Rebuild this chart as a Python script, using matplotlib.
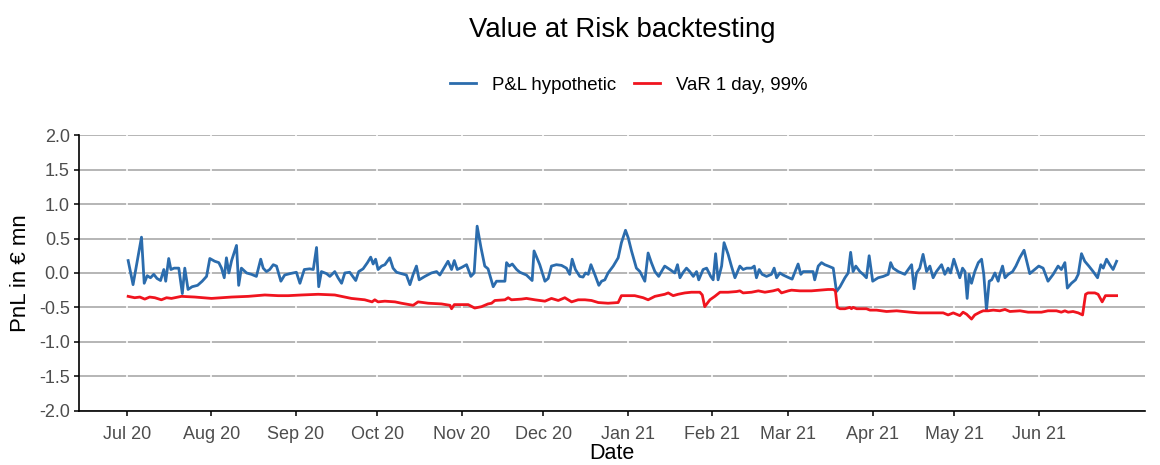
import matplotlib
matplotlib.use("Agg")
import matplotlib.pyplot as plt
import numpy as np
import pandas as pd

# ---- data ----
start_date = "2020-07-01"

# P&L hypothetic: days after start_date, value in EUR mn
pnl_days = [0.5, 2.3, 5.4, 6.4, 7.5, 8.7, 9.9, 11.1, 12.4, 13.6, 14.3, 15.4, 16.2, 17.4, 19.1, 20.4, 21.3, 22.5,
            24.0, 26.0, 27.7, 29.3, 30.5, 32.3, 33.8, 34.8, 35.8, 36.6, 37.5, 38.5, 40.3, 41.1, 42.1, 44.0, 45.8,
            47.6, 49.2, 50.1, 51.3, 52.5, 53.8, 55.0, 56.6, 58.0,
            59.9, 62.3, 63.6, 65.2, 67.2, 68.5, 69.7, 70.5, 71.5, 73.4, 74.6, 76.4, 77.6, 78.9, 80.1, 81.9, 84.1,
            85.2, 86.8, 88.4, 89.6, 90.5, 91.4, 92.3, 93.6, 94.8, 96.6, 97.8, 99.1, 100.9, 102.7, 104.0, 105.2,
            106.4, 107.4, 109.5, 111.9, 113.8, 115.0, 116.2, 118.0, 119.3, 120.3, 121.4,
            123.0, 124.8, 126.4, 127.6, 128.7, 130.1, 131.5, 132.7, 134.6, 135.8, 137.6, 138.9, 139.5, 140.5, 141.6,
            143.2, 144.4, 145.6, 146.8, 148.1, 148.9, 149.6, 151.7, 153.6, 154.8, 156.0, 157.8, 159.7, 161.5, 162.7,
            163.6, 164.8, 166.4, 167.6, 168.5, 169.5, 170.5, 171.9, 173.4, 174.4, 175.6, 176.8, 178.7, 180.5, 181.7,
            183.2,
            184.2, 185.4, 187.2, 188.5, 190.3, 191.5, 192.7, 194.0, 195.4, 196.4, 197.6, 199.5, 201.3, 202.3, 203.2,
            204.4, 205.6, 206.8, 208.1, 209.3, 210.1, 211.7, 213.0, 214.5, 215.4, 216.3, 217.2, 218.5, 219.4, 220.9,
            222.1, 223.4, 225.2, 226.4, 227.7, 229.5, 230.5, 231.3, 232.3, 233.4, 235.0, 236.8, 237.8, 238.7, 239.9,
            241.1, 242.7, 244.4, 246.0, 246.6,
            247.6, 248.5, 250.3, 252.1, 252.7, 254.0, 255.2, 256.4, 257.7, 259.5, 260.7, 262.0, 263.8, 265.0, 265.9,
            266.8, 267.8, 269.3, 270.5, 271.7, 272.7, 274.0, 276.0, 277.9, 279.7, 280.6, 281.5, 283.4, 285.8, 287.4,
            288.3, 289.2, 290.1, 291.3, 292.5, 293.8,
            295.0, 296.2, 297.4, 299.3, 300.5, 301.7, 302.6, 303.8, 305.0, 306.0, 307.0, 307.9, 308.7, 309.4, 310.3,
            311.5, 312.8, 314.0, 314.8, 315.8, 316.8, 317.7, 318.9, 320.1, 320.7, 321.7, 322.6, 323.8, 325.4, 326.6,
            328.0, 329.6, 331.7, 333.5, 335.0, 336.6, 338.4, 340.3, 342.1, 343.3, 344.6, 345.5, 347.0, 348.5, 349.5,
            350.7, 351.9, 353.4, 355.0, 356.6, 357.8, 358.7, 359.9, 361.1, 362.3, 363.6]
pnl_values = [0.18, -0.17, 0.52, -0.15, -0.04, -0.07, -0.02, -0.08, -0.11, 0.05, -0.12, 0.21, 0.05, 0.07, 0.07, -0.30, 0.07, -0.24,
              -0.20, -0.18, -0.12, -0.05, 0.21, 0.17, 0.15, 0.07, -0.07, 0.22, 0.00, 0.18, 0.40, -0.18, 0.07, 0.00, -0.02,
              -0.05, 0.20, 0.07, 0.02, 0.05, 0.12, 0.10, -0.12, -0.03,
              -0.01, 0.01, -0.15, 0.05, 0.06, 0.05, 0.37, -0.20, 0.02, -0.01, -0.05, 0.02, -0.07, -0.15, 0.00, 0.01, -0.11,
              0.02, 0.06, 0.15, 0.23, 0.13, 0.20, 0.05, 0.10, 0.12, 0.22, 0.07, 0.01, -0.01, -0.03, -0.17, -0.02,
              0.10, -0.10, -0.05, 0.00, 0.02, -0.03, 0.05, 0.17, 0.05, 0.18, 0.05,
              0.08, 0.12, -0.05, 0.00, 0.68, 0.37, 0.10, 0.06, -0.20, -0.12, -0.12, -0.12, 0.15, 0.10, 0.13,
              0.05, 0.01, -0.01, -0.03, -0.08, -0.11, 0.32, 0.12, -0.12, -0.08, 0.10, 0.12, 0.11, 0.07, -0.02,
              0.20, 0.05, -0.05, -0.06, 0.00, -0.02, 0.12, -0.02, -0.18, -0.12, -0.10, 0.00, 0.10, 0.22, 0.44,
              0.62,
              0.51, 0.32, 0.07, 0.02, -0.12, 0.29, 0.15, 0.02, -0.05, 0.02, 0.10, 0.05, 0.00, 0.12, -0.07,
              0.01, 0.07, 0.02, -0.05, 0.02, -0.10, 0.05, 0.07, -0.05, -0.10, 0.28, -0.10, 0.10, 0.44, 0.27,
              0.10, -0.07, 0.10, 0.05, 0.07, 0.07, 0.10, -0.07, 0.05, -0.02, -0.05, -0.02, 0.07, -0.07, 0.00,
              -0.03, -0.06, -0.09, 0.07, 0.13,
              -0.02, 0.02, 0.02, 0.02, -0.10, 0.10, 0.15, 0.12, 0.10, 0.07, -0.27, -0.20, -0.07, 0.00, 0.30,
              0.02, 0.10, 0.02, -0.02, -0.07, 0.25, -0.12, -0.07, -0.05, -0.02, 0.15, 0.07, 0.02, -0.02, 0.07,
              0.12, -0.23, 0.00, 0.07, 0.27, 0.02,
              0.10, -0.07, 0.02, 0.12, -0.02, 0.07, 0.00, 0.20, 0.05, -0.07, 0.07, 0.02, -0.37, -0.02, -0.15,
              0.02, 0.15, 0.20, -0.02, -0.54, -0.12, -0.10, 0.00, -0.12, -0.02, 0.10, -0.07, -0.02, 0.02, 0.10,
              0.22, 0.33, -0.01, 0.05, 0.10, 0.07, -0.12, -0.02, 0.10, 0.05, 0.15, -0.22, -0.15, -0.10, -0.02,
              0.28, 0.17, 0.10, 0.02, -0.07, 0.12, 0.07, 0.20, 0.12, 0.05, 0.17]

# VaR 1 day, 99%: days after start_date, value in EUR mn
var_days = [0.5, 2.9, 4.8, 6.6, 8.4, 10.3, 12.7, 14.6, 16.4, 20.1, 25.0, 31.1, 34.8, 38.5, 44.6, 50.7, 55.6, 59.3,
            64.2, 70.3, 76.4, 82.5, 87.4, 90.1, 91.1, 92.3, 94.8, 98.5, 100.9, 105.2, 107.0, 110.7, 115.6, 118.7,
            119.3, 120.3, 122.3, 125.4, 127.8, 130.3, 132.7, 134.0, 135.2, 138.9, 140.1, 141.3, 145.0, 146.8, 149.9,
            153.6, 156.0, 158.5, 160.9, 163.4, 165.8, 168.3, 170.7, 173.2, 176.8, 180.5, 181.7, 184.8, 186.6, 189.7,
            191.5, 194.0, 197.6, 198.9, 200.7, 202.5, 205.0, 207.4, 210.5, 211.4, 212.3, 214.2, 216.0, 217.9, 220.9,
            224.0, 225.2, 226.4, 229.5, 232.0, 234.4, 237.4, 239.3, 240.5, 243.0, 244.2, 247.2, 251.5, 257.6, 259.5,
            260.3, 261.0, 262.0, 263.8, 265.6, 266.2, 266.8, 268.1, 271.7, 273.0, 275.4, 279.1, 282.8, 287.7, 291.0,
            295.0, 299.9, 301.7, 303.6, 306.0, 307.2, 308.5, 310.3, 311.5, 313.4, 314.6, 316.4, 318.3, 320.7, 322.6,
            324.4, 328.1, 331.1, 336.0, 338.4, 341.5, 343.3, 344.6, 345.8, 347.6, 349.5, 351.1, 352.2, 353.1, 355.6,
            356.8, 358.3, 359.5, 363.6]
var_values = [-0.34, -0.36, -0.35, -0.38, -0.35, -0.36, -0.39, -0.36, -0.37, -0.34, -0.35, -0.37, -0.36, -0.35, -0.34, -0.32, -0.33, -0.33,
              -0.32, -0.31, -0.32, -0.37, -0.39, -0.42, -0.39, -0.42, -0.41, -0.42, -0.44, -0.47, -0.42, -0.44, -0.45, -0.47,
              -0.52, -0.46, -0.46, -0.46, -0.51, -0.49, -0.45, -0.44, -0.40, -0.39, -0.36, -0.39, -0.38, -0.37, -0.39,
              -0.41, -0.37, -0.40, -0.36, -0.42, -0.39, -0.39, -0.40, -0.43, -0.44, -0.43, -0.33, -0.33, -0.33, -0.36,
              -0.39, -0.34, -0.31, -0.29, -0.33, -0.31, -0.29, -0.28, -0.28, -0.32, -0.49, -0.39, -0.34, -0.28, -0.28,
              -0.27, -0.26, -0.29, -0.28, -0.26, -0.28, -0.26, -0.24, -0.29, -0.26, -0.25, -0.26, -0.26, -0.24, -0.24,
              -0.26, -0.50, -0.52, -0.52, -0.50, -0.52, -0.50, -0.52, -0.52, -0.54, -0.54, -0.56, -0.55, -0.57, -0.58,
              -0.58, -0.58, -0.61, -0.58, -0.62, -0.57, -0.60, -0.67, -0.61, -0.57, -0.55, -0.55, -0.54, -0.55, -0.53,
              -0.56, -0.55, -0.57, -0.57, -0.55, -0.55, -0.57, -0.55, -0.57, -0.56, -0.58, -0.61, -0.31, -0.29, -0.29,
              -0.31, -0.42, -0.33, -0.33]

month_starts = ["2020-07-01", "2020-08-01", "2020-09-01", "2020-10-01", "2020-11-01", "2020-12-01",
                "2021-01-01", "2021-02-01", "2021-03-01", "2021-04-01", "2021-05-01", "2021-06-01"]
month_labels = ["Jul 20", "Aug 20", "Sep 20", "Oct 20", "Nov 20", "Dec 20",
                "Jan 21", "Feb 21", "Mar 21", "Apr 21", "May 21", "Jun 21"]
y_ticks = [-2.0, -1.5, -1.0, -0.5, 0.0, 0.5, 1.0, 1.5, 2.0]

# ---- styling ----
plt.rcParams['font.family'] = ['Liberation Sans', 'DejaVu Sans']
BLUE = '#2b6cad'
RED = '#f0141e'
GRID = '#a9a9a9'
TICKTXT = '#4d4d4d'

fig = plt.figure(figsize=(11.6, 4.65), dpi=100)
ax = fig.add_axes([0.068, 0.117, 0.919, 0.592])

t0 = pd.Timestamp(start_date)
pnl_dates = t0 + pd.to_timedelta(pnl_days, unit="D")
var_dates = t0 + pd.to_timedelta(var_days, unit="D")
ticks = pd.to_datetime(month_starts)

ax.plot(pnl_dates, pnl_values, color=BLUE, lw=2.0, label="P&L hypothetic", zorder=3, solid_joinstyle='round')
ax.plot(var_dates, var_values, color=RED, lw=2.0, label="VaR 1 day, 99%", zorder=3, solid_joinstyle='round')

ax.set_ylim(-2.0, 2.0)
ax.set_xlim(t0 + pd.Timedelta(days=-17.6), t0 + pd.Timedelta(days=374))

for yv in y_ticks:
    ax.axhline(yv, color=GRID, lw=1.2, zorder=0.5)
for tk in ticks:
    ax.axvline(tk, color='white', lw=1.2, zorder=0.6)

ax.set_yticks(y_ticks)
ax.set_yticklabels([f"{v:.1f}" for v in y_ticks])
ax.set_xticks(ticks)
ax.set_xticklabels(month_labels)
ax.tick_params(axis='both', colors='black', labelcolor=TICKTXT, labelsize=13, length=3.5, width=1.1, direction='out')
ax.tick_params(axis='x', pad=7.5)
ax.tick_params(axis='y', pad=3)

for s in ['top', 'right']:
    ax.spines[s].set_visible(False)
for s in ['left', 'bottom']:
    ax.spines[s].set_color('black')
    ax.spines[s].set_linewidth(1.2)

ax.set_xlabel("Date", fontsize=15.5, color='black', labelpad=0)
ax.set_ylabel("PnL in € mn", fontsize=16, color='black', labelpad=6)

fig.text(0.536, 1 - 30 / 465, "Value at Risk backtesting", ha='center', va='center', fontsize=19.8)
fig.legend(loc='center', bbox_to_anchor=(0.542, 1 - 85 / 465), ncol=2, frameon=False, fontsize=13.4,
           handlelength=1.4, handletextpad=0.88, columnspacing=0.93)

fig.savefig("out.png", dpi=100)
